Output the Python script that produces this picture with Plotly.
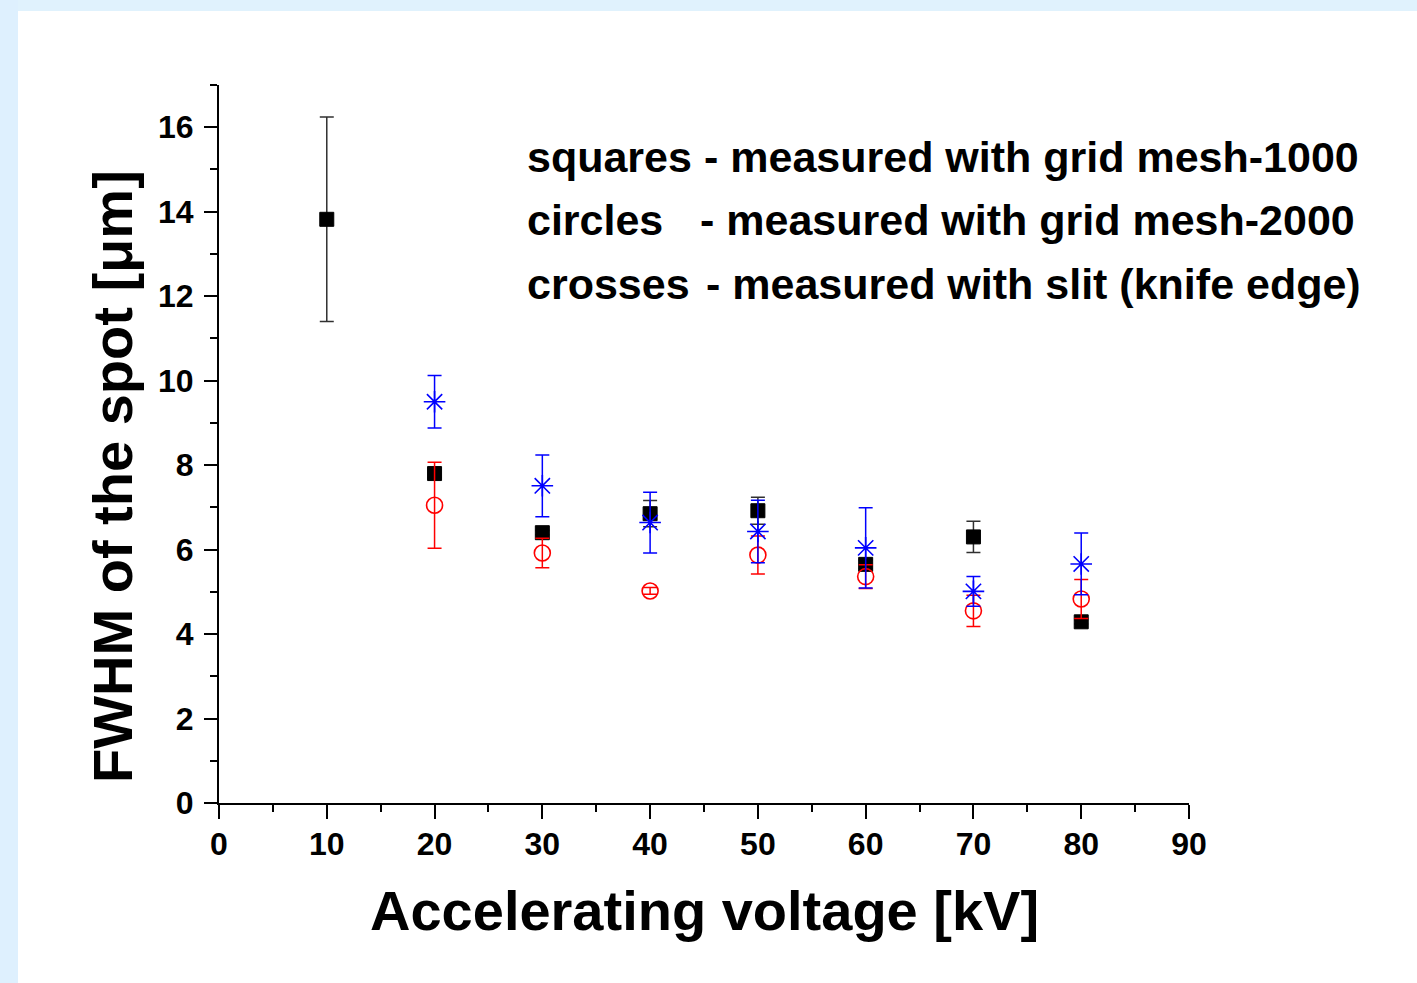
import plotly.graph_objects as go

# ---------------- data ----------------
sq_x = [10, 20, 30, 40, 50, 60, 70, 80]
sq_y = [13.82, 7.80, 6.40, 6.85, 6.92, 5.65, 6.30, 4.29]
sq_err = [2.42, 0.10, 0.05, 0.31, 0.32, 0.10, 0.37, 0.05]

ci_x = [20, 30, 40, 50, 60, 70, 80]
ci_y = [7.05, 5.92, 5.02, 5.87, 5.36, 4.55, 4.83]
ci_err = [1.02, 0.35, 0.08, 0.45, 0.28, 0.37, 0.46]

cr_x = [20, 30, 40, 50, 60, 70, 80]
cr_y = [9.50, 7.51, 6.64, 6.43, 6.04, 5.01, 5.66]
cr_err = [0.62, 0.73, 0.72, 0.74, 0.95, 0.35, 0.73]

x_ticks = [0, 10, 20, 30, 40, 50, 60, 70, 80, 90]
y_ticks = [0, 2, 4, 6, 8, 10, 12, 14, 16]

legend_words = ["squares", "circles", "crosses"]
legend_rest = ["- measured with grid mesh-1000",
               "- measured with grid mesh-2000",
               "- measured with slit (knife edge)"]

FONT = "Liberation Sans, Arial, sans-serif"

fig = go.Figure()

fig.add_trace(go.Scatter(
    x=sq_x, y=sq_y, mode="markers",
    marker=dict(symbol="square", size=14, color="black", line=dict(color="black", width=1)),
    error_y=dict(type="data", array=sq_err, visible=True, color="#303030", thickness=1.5, width=7),
    showlegend=False,
))
fig.add_trace(go.Scatter(
    x=ci_x, y=ci_y, mode="markers",
    marker=dict(symbol="circle-open", size=16, color="#FF0000", line=dict(color="#FF0000", width=1.6)),
    error_y=dict(type="data", array=ci_err, visible=True, color="#FF0000", thickness=1.5, width=7),
    showlegend=False,
))
fig.add_trace(go.Scatter(
    x=cr_x, y=cr_y, mode="markers",
    marker=dict(symbol="asterisk-open", size=18, color="#0000FF", line=dict(color="#0000FF", width=1.6)),
    error_y=dict(type="data", array=cr_err, visible=True, color="#0000FF", thickness=1.5, width=7),
    showlegend=False,
))

# plot area in pixels: x 219..1189, y 85..803
def px_x(p):
    return (p - 219) / 970.0

def px_y(p):
    return (803 - p) / 718.0

# background frame
shapes = [
    dict(type="rect", xref="paper", yref="paper", x0=px_x(0), x1=px_x(1417), y0=px_y(0), y1=px_y(11),
         fillcolor="#E0F2FD", line=dict(width=0), layer="below"),
    dict(type="rect", xref="paper", yref="paper", x0=px_x(0), x1=px_x(18), y0=px_y(983), y1=px_y(0),
         fillcolor="#DEF0FE", line=dict(width=0), layer="below"),
]

annotations = []
line_centers = [157, 220, 284]
dash_x = [704, 700, 706]
for w, r, yc, dx in zip(legend_words, legend_rest, line_centers, dash_x):
    annotations.append(dict(text=w, xref="paper", yref="paper", x=px_x(525), y=px_y(yc),
                            xanchor="left", yanchor="middle", showarrow=False,
                            font=dict(family=FONT, size=43, color="black", weight="bold")))
    annotations.append(dict(text=r, xref="paper", yref="paper", x=px_x(dx - 2), y=px_y(yc),
                            xanchor="left", yanchor="middle", showarrow=False,
                            font=dict(family=FONT, size=43, color="black", weight="bold")))

annotations.append(dict(text="Accelerating voltage [kV]", xref="paper", yref="paper",
                        x=px_x(704), y=px_y(910), xanchor="center", yanchor="middle",
                        showarrow=False, font=dict(family=FONT, size=56, color="black", weight="bold")))
annotations.append(dict(text="FWHM of the spot [μm]", xref="paper", yref="paper",
                        x=px_x(112), y=px_y(477), xanchor="center", yanchor="middle",
                        textangle=-90, showarrow=False,
                        font=dict(family=FONT, size=56, color="black", weight="bold")))

fig.update_layout(
    width=1417, height=983,
    margin=dict(l=219, r=228, t=85, b=180),
    paper_bgcolor="white", plot_bgcolor="white",
    shapes=shapes, annotations=annotations,
    showlegend=False,
)

fig.update_xaxes(
    range=[0, 90], tickvals=x_ticks, ticktext=[str(v) for v in x_ticks],
    showgrid=False, zeroline=False, showline=True, linecolor="black", linewidth=2,
    ticks="outside", ticklen=14, tickwidth=2, tickcolor="black",
    tickfont=dict(family=FONT, size=32, color="black", weight="bold"),
    ticklabelstandoff=-2,
    minor=dict(ticks="outside", dtick=5, tick0=0, ticklen=7, tickwidth=2, tickcolor="black"),
)
fig.update_yaxes(
    range=[0, 17], tickvals=y_ticks, ticktext=[str(v) for v in y_ticks],
    showgrid=False, zeroline=False, showline=True, linecolor="black", linewidth=2,
    ticks="outside", ticklen=13, tickwidth=2, tickcolor="black",
    tickfont=dict(family=FONT, size=32, color="black", weight="bold"),
    ticklabelstandoff=4,
    minor=dict(ticks="outside", dtick=1, tick0=0, ticklen=7, tickwidth=2, tickcolor="black"),
)

fig.write_html(
    "out.html",
    config={"displayModeBar": False},
    post_script="document.body.style.margin='0';document.body.style.padding='0';"
                "document.body.style.overflow='hidden';",
)
